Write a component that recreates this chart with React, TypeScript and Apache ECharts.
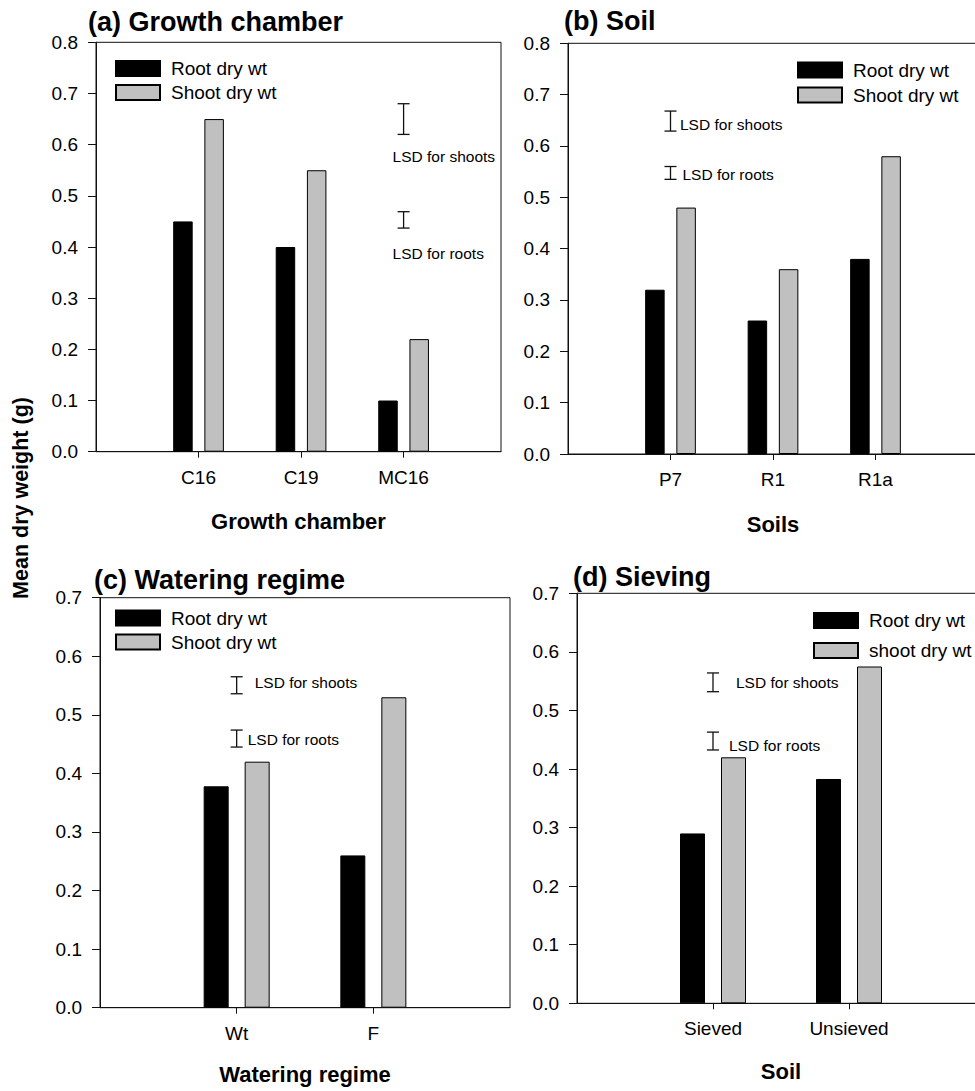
import React, { useEffect, useRef } from "react";
import * as echarts from "echarts";

// ---------- data ----------
const rootName = "Root dry wt";
const shootName = "Shoot dry wt";
const shootNameD = "shoot dry wt";

const catsA = ["C16", "C19", "MC16"];
const rootA = [0.45, 0.4, 0.1];
const shootA = [0.65, 0.55, 0.22];

const catsB = ["P7", "R1", "R1a"];
const rootB = [0.32, 0.26, 0.38];
const shootB = [0.48, 0.36, 0.58];

const catsC = ["Wt", "F"];
const rootC = [0.378, 0.26];
const shootC = [0.42, 0.53];

const catsD = ["Sieved", "Unsieved"];
const rootD = [0.29, 0.383];
const shootD = [0.42, 0.575];

// LSD bars: [category position (1-based), low, high]
const lsdA = [[3, 0.62, 0.68], [3, 0.437, 0.469]];
const lsdB = [[1, 0.629, 0.668], [1, 0.535, 0.56]];
const lsdC = [[1, 0.536, 0.565], [1, 0.445, 0.474]];
const lsdD = [[1, 0.532, 0.564], [1, 0.4325, 0.463]];
const lsdText = ["LSD for shoots", "LSD for roots"];

const titles = ["(a) Growth chamber", "(b) Soil", "(c) Watering regime", "(d) Sieving"];
const xNames = ["Growth chamber", "Soils", "Watering regime", "Soil"];
const yMaxes = [0.8, 0.8, 0.7, 0.7];
const yTitle = "Mean dry weight (g)";

// ---------- styles / layout ----------
const FONT = "'Liberation Sans', Arial, Helvetica, sans-serif";
const INK = "#111";

const grids = [
  { left: 96, top: 42.3, width: 405, height: 409.4, xMax: 3.95 },
  { left: 568, top: 43.3, width: 410, height: 410.7, xMax: 4 },
  { left: 100, top: 597.7, width: 410, height: 410, xMax: 3 },
  { left: 577, top: 593.3, width: 408, height: 410, xMax: 3 },
];
const barWidths = [19.5, 19.5, 25, 25];
const barGaps = ["60%", "60%", "64%", "64%"];
// label offsets relative to the lower cap of each LSD bar [dx, dy]
const lsdOffsets = [
  [[-11, 22], [-11, 25]],
  [[9.5, -7], [12, -5]],
  [[18, -11], [11, -8]],
  [[23, -9], [16, -4]],
];
const legendPos = [
  { left: 115, top: 59, gap: 5, names: [rootName, shootName] },
  { left: 797, top: 60.5, gap: 6, names: [rootName, shootName] },
  { left: 115, top: 608.5, gap: 5, names: [rootName, shootName] },
  { left: 813, top: 611, gap: 11, names: [rootName, shootNameD] },
];
const titlePos = [
  { x: 88, y: 22 },
  { x: 564, y: 21 },
  { x: 94, y: 580 },
  { x: 573, y: 577 },
];
const nameGaps = [59, 59, 56, 57];

const panels = [
  { cats: catsA, root: rootA, shoot: shootA, lsd: lsdA, shootLabel: shootName },
  { cats: catsB, root: rootB, shoot: shootB, lsd: lsdB, shootLabel: shootName },
  { cats: catsC, root: rootC, shoot: shootC, lsd: lsdC, shootLabel: shootName },
  { cats: catsD, root: rootD, shoot: shootD, lsd: lsdD, shootLabel: shootNameD },
];

function buildOption() {
  const grid: any[] = [];
  const xAxis: any[] = [];
  const yAxis: any[] = [];
  const series: any[] = [];
  const legend: any[] = [];
  const graphic: any[] = [];

  panels.forEach((p, i) => {
    const g = grids[i];
    grid.push({
      left: g.left,
      top: g.top,
      width: g.width,
      height: g.height,
      show: true,
      borderColor: INK,
      borderWidth: 1,
      backgroundColor: "transparent",
      containLabel: false,
      outerBoundsMode: "none",
    });
    const positions = p.cats.map((_, k) => k + 1);
    xAxis.push({
      type: "value",
      gridIndex: i,
      min: 0,
      max: g.xMax,
      interval: 1,
      axisLine: { show: true, onZero: false, lineStyle: { color: INK, width: 1 } },
      axisTick: { show: true, length: 6, customValues: positions, lineStyle: { color: INK } },
      axisLabel: {
        customValues: positions,
        formatter: (v: number) => p.cats[Math.round(v) - 1] ?? "",
        fontSize: 19,
        fontFamily: FONT,
        color: "#000",
        margin: 16,
      },
      splitLine: { show: false },
      name: xNames[i],
      nameLocation: "middle",
      nameGap: nameGaps[i],
      nameTextStyle: { fontSize: 22, fontWeight: "bold", fontFamily: FONT, color: "#000" },
    });
    yAxis.push({
      type: "value",
      gridIndex: i,
      min: 0,
      max: yMaxes[i],
      interval: 0.1,
      axisLine: { show: true, lineStyle: { color: INK, width: 1 } },
      axisTick: { show: true, length: 8, lineStyle: { color: INK } },
      axisLabel: {
        formatter: (v: number) => v.toFixed(1),
        fontSize: 19,
        fontFamily: FONT,
        color: "#000",
        margin: 18,
      },
      splitLine: { show: false },
    });
    series.push({
      type: "bar",
      name: rootName,
      xAxisIndex: i,
      yAxisIndex: i,
      data: p.root.map((v, k) => [k + 1, v]),
      barWidth: barWidths[i],
      barGap: barGaps[i],
      itemStyle: { color: "#000", borderColor: "#000", borderWidth: 1 },
    });
    series.push({
      type: "bar",
      name: p.shootLabel,
      xAxisIndex: i,
      yAxisIndex: i,
      data: p.shoot.map((v, k) => [k + 1, v]),
      barWidth: barWidths[i],
      barGap: barGaps[i],
      itemStyle: { color: "#c0c0c0", borderColor: "#000", borderWidth: 1 },
    });
    const offs = lsdOffsets[i];
    series.push({
      type: "custom",
      name: "LSD" + i,
      xAxisIndex: i,
      yAxisIndex: i,
      clip: false,
      data: p.lsd,
      encode: { x: 0, y: [1, 2] },
      renderItem: (params: any, api: any) => {
        const x = api.value(0);
        const lo = api.coord([x, api.value(1)]);
        const hi = api.coord([x, api.value(2)]);
        const off = offs[params.dataIndex];
        const ls = { stroke: INK, lineWidth: 1.3 };
        return {
          type: "group",
          children: [
            { type: "line", shape: { x1: lo[0], y1: lo[1], x2: hi[0], y2: hi[1] }, style: ls },
            { type: "line", shape: { x1: lo[0] - 6, y1: lo[1], x2: lo[0] + 6, y2: lo[1] }, style: ls },
            { type: "line", shape: { x1: hi[0] - 6, y1: hi[1], x2: hi[0] + 6, y2: hi[1] }, style: ls },
            {
              type: "text",
              x: lo[0] + off[0],
              y: lo[1] + off[1],
              style: {
                text: lsdText[params.dataIndex],
                fontSize: 15.5,
                fontFamily: FONT,
                fill: "#000",
                align: "left",
                verticalAlign: "middle",
              },
            },
          ],
        };
      },
    });
    const lp = legendPos[i];
    legend.push({
      left: lp.left,
      top: lp.top,
      orient: "vertical",
      data: lp.names,
      itemWidth: 44,
      itemHeight: 15,
      itemGap: lp.gap,
      padding: 0,
      icon: "rect",
      selectedMode: false,
      textStyle: { fontSize: 19, fontFamily: FONT, color: "#000", padding: [0, 0, 0, 6] },
    });
    graphic.push({
      type: "text",
      x: titlePos[i].x,
      y: titlePos[i].y,
      style: {
        text: titles[i],
        font: `bold 27px ${FONT}`,
        fill: "#000",
        align: "left",
        verticalAlign: "middle",
      },
    });
  });

  graphic.push({
    type: "text",
    x: 21,
    y: 498,
    rotation: Math.PI / 2,
    style: {
      text: yTitle,
      font: `bold 21.5px ${FONT}`,
      fill: "#000",
      align: "center",
      verticalAlign: "middle",
    },
  });

  return {
    animation: false,
    backgroundColor: "#fff",
    grid,
    xAxis,
    yAxis,
    series,
    legend,
    graphic,
  };
}

export default function App() {
  const ref = useRef<HTMLDivElement>(null);
  useEffect(() => {
    document.body.style.margin = "0";
    if (!ref.current) return;
    const chart = echarts.init(ref.current, undefined, { renderer: "svg" });
    chart.setOption(buildOption() as any);
    return () => chart.dispose();
  }, []);
  return <div ref={ref} style={{ width: 975, height: 1091 }} />;
}
